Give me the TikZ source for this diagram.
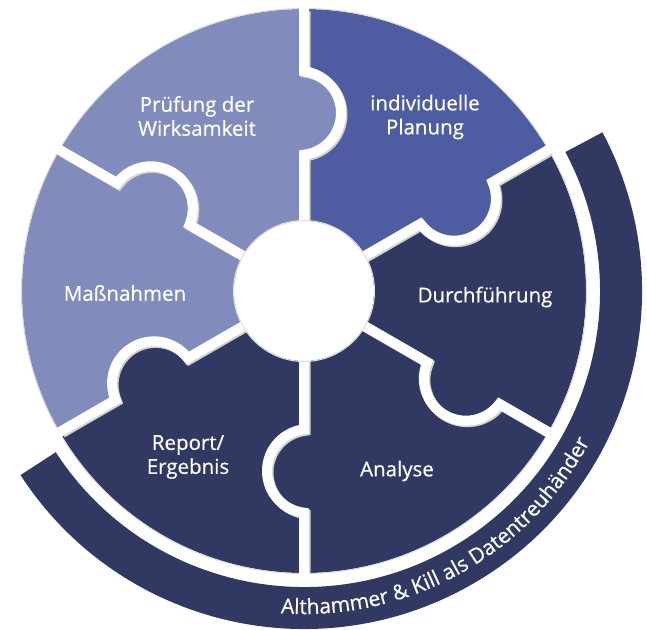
\documentclass[tikz,border=0pt]{standalone}
\usepackage{fontspec}
\setmainfont{Open Sans}[FakeBold=0.5]
\usetikzlibrary{decorations.text}
\definecolor{hell}{HTML}{818CBD}
\definecolor{mittel}{HTML}{4E5DA1}
\definecolor{dunkel}{HTML}{313962}
\newcommand{\bandfont}{\fontsize{21}{21}\selectfont}

\begin{document}
\begin{tikzpicture}[x=1pt,y=1pt,
  label/.style={text=white,align=center,font=\fontsize{20.5}{24}\selectfont},
  divider/.style={white,line width=10},
  dshadow/.style={gray!35,line width=10,shift={(1.5,-1.5)}}]
\useasboundingbox (-304,-338) rectangle (343,291);
% pieces
\fill[mittel] (0,0) -- (90:282) arc[start angle=90,end angle=30,radius=282pt] -- cycle;
\fill[dunkel] (0,0) -- (30:282) arc[start angle=30,end angle=-150,radius=282pt] -- cycle;
\fill[hell] (0,0) -- (210:282) arc[start angle=210,end angle=90,radius=282pt] -- cycle;
\draw[gray!30,line width=1] (0,0) circle (282.5pt);
% tabs
\fill[hell,rotate=90] (178,5) circle (42pt);
\fill[mittel,rotate=30] (176,5) circle (42pt);
\fill[dunkel,rotate=-30] (184,5) circle (42pt);
\fill[dunkel,rotate=-90] (180,5) circle (42pt);
\fill[dunkel,rotate=210] (176,5) circle (42pt);
\fill[hell,rotate=150] (174,5) circle (42pt);
% gaps
\draw[dshadow,rotate=90] (0,0) -- ({178-41.7},0) arc[start angle=186.84,end angle=353.16,radius=42pt] -- (281,0);
\draw[dshadow,rotate=30] (0,0) -- ({176-41.7},0) arc[start angle=186.84,end angle=353.16,radius=42pt] -- (281,0);
\draw[dshadow,rotate=-30] (0,0) -- ({184-41.7},0) arc[start angle=186.84,end angle=353.16,radius=42pt] -- (281,0);
\draw[dshadow,rotate=-90] (0,0) -- ({180-41.7},0) arc[start angle=186.84,end angle=353.16,radius=42pt] -- (281,0);
\draw[dshadow,rotate=210] (0,0) -- ({176-41.7},0) arc[start angle=186.84,end angle=353.16,radius=42pt] -- (281,0);
\draw[dshadow,rotate=150] (0,0) -- ({174-41.7},0) arc[start angle=186.84,end angle=353.16,radius=42pt] -- (281,0);
\draw[divider,rotate=90] (0,0) -- ({178-41.7},0) arc[start angle=186.84,end angle=353.16,radius=42pt] -- (290,0);
\draw[divider,rotate=30] (0,0) -- ({176-41.7},0) arc[start angle=186.84,end angle=353.16,radius=42pt] -- (290,0);
\draw[divider,rotate=-30] (0,0) -- ({184-41.7},0) arc[start angle=186.84,end angle=353.16,radius=42pt] -- (290,0);
\draw[divider,rotate=-90] (0,0) -- ({180-41.7},0) arc[start angle=186.84,end angle=353.16,radius=42pt] -- (290,0);
\draw[divider,rotate=210] (0,0) -- ({176-41.7},0) arc[start angle=186.84,end angle=353.16,radius=42pt] -- (290,0);
\draw[divider,rotate=150] (0,0) -- ({174-41.7},0) arc[start angle=186.84,end angle=353.16,radius=42pt] -- (290,0);
\fill[white] (0,0) circle (70pt);
\draw[gray!25,line width=1] (0,0) circle (70.5pt);
% band
\fill[dunkel] (-147:296) arc[start angle=-147,end angle=28,radius=296pt] -- (28:338) arc[start angle=28,end angle=-147,radius=338pt] -- cycle;
\path[decorate,decoration={text along path,text={|\bandfont|Althammer {\&} Kill als Datentreuhänder},text align=center,text color=white}] (-100:323) arc[start angle=-100,end angle=-22,radius=323pt];
% labels
\node[label] (pruef) at(-107,175) {Prüfung der\\Wirksamkeit};
\node[label] (plan) at(121,174) {individuelle\\Planung};
\node[label] (mass) at(-179,-2) {Maßnahmen};
\node[label] (durch) at(181,-6) {Durchführung};
\node[label] (analyse) at(93,-180) {Analyse};
\node[label] (report) at(-116,-166) {Report/\\Ergebnis};
\end{tikzpicture}
\end{document}
